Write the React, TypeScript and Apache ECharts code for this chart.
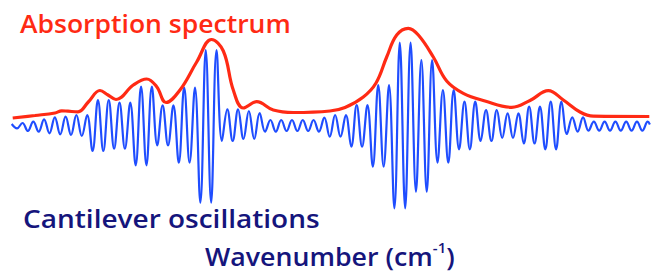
import React, { useEffect, useRef } from "react";
import * as echarts from "echarts";

// Cantilever oscillation: successive extrema (alternating trough / peak), index = half-period step
const oscillation: number[] = [
  1.5, -2.8, 2.5, -5.5, 3.8, -6.2, 6.2, -7.8, 8.2, -8.8,
  8.8, -9.5, 10.5, -10.5, 10.5, -25.5, 25.5, -25.5, 25.5, -23.2,
  22.8, -23.2, 22.8, -39.8, 38.8, -39.8, 38.8, -19.8, 20.2, -19.8,
  20.2, -37.2, 37.8, -37.2, 37.8, -77.2, 75.5, -77.2, 75.5, -15.5,
  16.2, -15.5, 16.2, -13.5, 14.5, -13.5, 12.5, -6.2, 5.5, -6.2,
  5.5, -5.5, 5.5, -5.5, 5.5, -5.5, 5.5, -6.2, 7.8, -11.2,
  10.5, -11.2, 10.5, -21.2, 20.5, -21.2, 20.5, -41.2, 40.5, -41.2,
  40.5, -82.8, 82.8, -82.8, 82.8, -66.2, 65.5, -66.2, 65.5, -37.2,
  35.5, -37.2, 35.5, -23.8, 23.8, -23.8, 23.8, -15.5, 15.5, -15.5,
  15.5, -12.5, 12.2, -12.5, 12.2, -18, 18.8, -18, 18.8, -23.8,
  23.8, -23.8, 23.8, -8.5, 8.2, -6.2, 8.2, -5.2, 3.8, -5.2,
  3.8, -5.2, 3.8, -5.2, 3.8, -5.2, 3.8, -5.2, 3.8,
];
const oscillationEnd: [number, number] = [118.4, 1];

// Absorption spectrum: wavenumber positions and intensities
const absorptionX: number[] = [
  0.19, 4.32, 8.03, 9.28, 10.45, 12.3, 14.21, 16.38, 17.87, 19.35,
  22.56, 25.05, 26.9, 28.63, 31.22, 34.32, 37.07, 39.26, 41.11, 42.97,
  45.45, 48.53, 52.24, 59.05, 61.84, 65.23, 67.59, 69.57, 71.43, 73.58,
  75.44, 78.22, 80.7, 83.78, 87.8, 92.76, 96.16, 99.55, 102.34, 105.44,
  107.9, 118.29,
];
const absorptionY: number[] = [
  7.5, 10, 12.5, 14.7, 14.3, 13.7, 23.5, 35, 30.5, 26,
  40.5, 46.5, 38.8, 23, 35.5, 63.5, 86, 74.5, 35.5, 17.5,
  23.8, 15.5, 13, 14.5, 18, 28.5, 42.5, 68.5, 90.5, 97.2,
  90.5, 68.5, 44.5, 32.2, 24.5, 18.2, 25, 34.8, 25.5, 13.5,
  9.3, 9,
];

const labels = {
  absorption: "Absorption spectrum",
  cantilever: "Cantilever oscillations",
  axis: "Wavenumber (cm",
  sup: "-1",
  close: ")",
};

const RED = "#ff2a14";
const BLUE = "#1f4dff";
const NAVY = "#15157c";
const FONT = "'Open Sans', 'Noto Sans', sans-serif";

export default function App() {
  const ref = useRef<HTMLDivElement>(null);
  useEffect(() => {
    if (!ref.current) return;
    const chart = echarts.init(ref.current, null, { renderer: "svg" });
    const blueData: [number, number][] = oscillation.map((v, i) => [i, v] as [number, number]);
    blueData.push(oscillationEnd);
    const redData = absorptionX.map((x, i) => [x, absorptionY[i]]);
    chart.setOption({
      animation: false,
      backgroundColor: "#ffffff",
      grid: { left: 0, right: 0, top: 0, bottom: 0 },
      xAxis: { type: "value", min: -2.171, max: 120.09, show: false },
      yAxis: { type: "value", min: -146.5, max: 125.5, show: false },
      series: [
        {
          type: "line",
          data: blueData,
          smooth: 0.4,
          symbol: "none",
          lineStyle: { color: BLUE, width: 2.2 },
          z: 2,
        },
        {
          type: "line",
          data: redData,
          smooth: 0.4,
          symbol: "none",
          lineStyle: { color: RED, width: 3.2 },
          z: 3,
        },
      ],
      graphic: [
        {
          type: "text",
          x: 20,
          y: 23,
          scaleX: 1.02,
          style: {
            text: labels.absorption,
            fontSize: 26,
            fontFamily: FONT,
            fontWeight: 600,
            fill: RED,
            verticalAlign: "middle",
          },
        },
        {
          type: "text",
          x: 23,
          y: 218.5,
          scaleX: 1.12,
          style: {
            text: labels.cantilever,
            fontSize: 25,
            fontFamily: FONT,
            fontWeight: 600,
            fill: NAVY,
            verticalAlign: "middle",
          },
        },
        {
          type: "text",
          x: 205,
          y: 256,
          scaleX: 1.07,
          style: {
            text: `{a|${labels.axis}}{s|${labels.sup}}{a|${labels.close}}`,
            fill: NAVY,
            verticalAlign: "middle",
            rich: {
              a: { fontSize: 25, fontFamily: FONT, fontWeight: 600, fill: NAVY, lineHeight: 30 },
              s: { fontSize: 14, fontFamily: FONT, fontWeight: 600, fill: NAVY, lineHeight: 30, verticalAlign: "top" },
            },
          },
        },
      ],
    });
    return () => chart.dispose();
  }, []);
  return (
    <div
      ref={ref}
      style={{ position: "fixed", left: 0, top: 0, width: 659, height: 272 }}
    />
  );
}
